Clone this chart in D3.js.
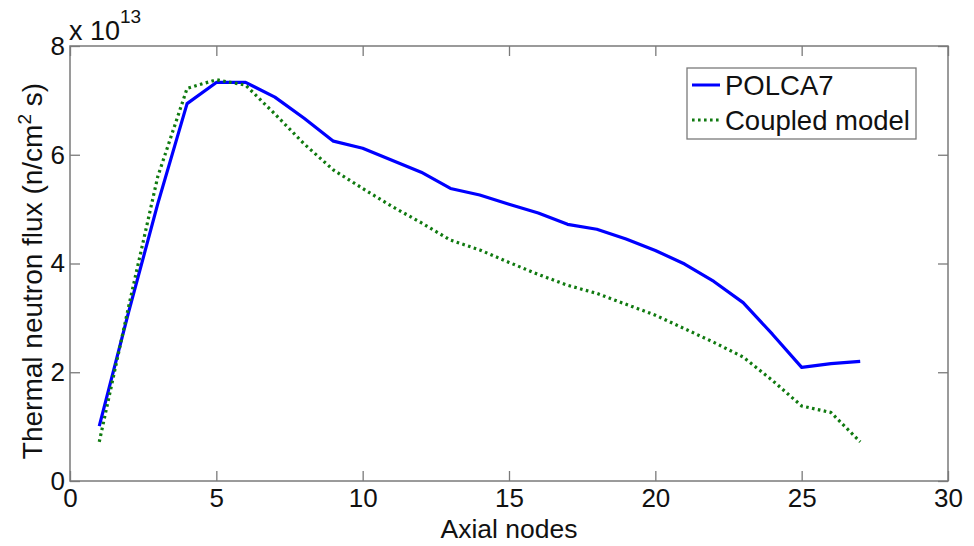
<!DOCTYPE html>
<html>
<head>
<meta charset="utf-8">
<script src="https://cdn.jsdelivr.net/npm/d3@7"></script>
<style>
  html, body { margin: 0; padding: 0; background: #fff; }
  svg text { font-family: "Liberation Sans", Arial, sans-serif; fill: #111; }
</style>
</head>
<body>
<div id="chart"></div>
<script>
// axial node index
const nodes = [1, 2, 3, 4, 5, 6, 7, 8, 9, 10, 11, 12, 13, 14, 15, 16, 17, 18, 19, 20, 21, 22, 23, 24, 25, 26, 27];
// thermal neutron flux, units of 1e13 n/(cm^2 s)
const polca7 = [1.01, 3.1, 5.1, 6.94, 7.33, 7.33, 7.06, 6.67, 6.25, 6.12, 5.9, 5.68, 5.38, 5.26, 5.09, 4.93, 4.72, 4.63, 4.45, 4.24, 3.99, 3.67, 3.28, 2.7, 2.09, 2.16, 2.2];
const coupled = [0.72, 3.2, 5.6, 7.22, 7.38, 7.28, 6.75, 6.2, 5.72, 5.38, 5.05, 4.75, 4.43, 4.25, 4.02, 3.8, 3.6, 3.45, 3.25, 3.05, 2.8, 2.55, 2.28, 1.85, 1.38, 1.26, 0.72];
const xTicks = [0, 5, 10, 15, 20, 25, 30];
const yTicks = [0, 2, 4, 6, 8];

const width = 974, height = 546;
const margin = { left: 70, right: 26, top: 46, bottom: 65 };
const axisColor = '#7a7a7a';

const svg = d3.select('#chart').append('svg')
  .attr('width', width)
  .attr('height', height);

const x = d3.scaleLinear().domain([0, 30]).range([margin.left, width - margin.right]);
const y = d3.scaleLinear().domain([0, 8]).range([height - margin.bottom, margin.top]);

// box
svg.append('rect')
  .attr('x', x(0)).attr('y', y(8))
  .attr('width', x(30) - x(0)).attr('height', y(0) - y(8))
  .attr('fill', 'none').attr('stroke', axisColor).attr('stroke-width', 1.5);

// ticks inward, on all four sides (matlab style)
const tickLen = 10;
const styleAxis = g => {
  g.select('.domain').remove();
  g.selectAll('.tick line').attr('stroke', axisColor).attr('stroke-width', 1.3);
  g.selectAll('.tick text').attr('font-size', '26px').attr('fill', '#111');
};

svg.append('g')
  .attr('transform', `translate(0,${y(0)})`)
  .call(d3.axisBottom(x).tickValues(xTicks).tickSize(-tickLen).tickPadding(8).tickFormat(d3.format('d')))
  .call(styleAxis);

svg.append('g')
  .attr('transform', `translate(0,${y(8)})`)
  .call(d3.axisTop(x).tickValues(xTicks).tickSize(-tickLen).tickFormat(''))
  .call(styleAxis);

svg.append('g')
  .attr('transform', `translate(${x(0)},0)`)
  .call(d3.axisLeft(y).tickValues(yTicks).tickSize(-tickLen).tickPadding(5).tickFormat(d3.format('d')))
  .call(styleAxis);

svg.append('g')
  .attr('transform', `translate(${x(30)},0)`)
  .call(d3.axisRight(y).tickValues(yTicks).tickSize(-tickLen).tickFormat(''))
  .call(styleAxis);

// exponent label
const expo = svg.append('text')
  .attr('x', x(0) - 1)
  .attr('y', 40)
  .attr('font-size', '27px');
expo.append('tspan').text('x 10');
expo.append('tspan').attr('dy', -17).attr('font-size', '19px').text('13');

// axis titles
svg.append('text')
  .attr('x', (x(0) + x(30)) / 2)
  .attr('y', 538)
  .attr('text-anchor', 'middle')
  .attr('font-size', '26.5px')
  .text('Axial nodes');

const yl = svg.append('text')
  .attr('transform', `translate(42,271) rotate(-90)`)
  .attr('text-anchor', 'middle')
  .attr('font-size', '28px');
yl.append('tspan').text('Thermal neutron flux (n/cm');
yl.append('tspan').attr('dy', -11).attr('font-size', '19px').text('2');
yl.append('tspan').attr('dy', 11).text(' s)');

// lines
const line = d3.line().x((d, i) => x(nodes[i])).y(d => y(d));

svg.append('path')
  .datum(polca7)
  .attr('d', line)
  .attr('fill', 'none')
  .attr('stroke', '#0000ff')
  .attr('stroke-width', 3.2)
  .attr('stroke-linejoin', 'round');

svg.append('path')
  .datum(coupled)
  .attr('d', line)
  .attr('fill', 'none')
  .attr('stroke', '#107a10')
  .attr('stroke-width', 3.2)
  .attr('stroke-dasharray', '2.6,3.4');

// legend
const lg = svg.append('g').attr('transform', 'translate(687,68)');
lg.append('rect')
  .attr('width', 229).attr('height', 71)
  .attr('fill', '#fff').attr('stroke', axisColor).attr('stroke-width', 1.3);

const legendItems = [
  { name: 'POLCA7', color: '#0000ff', dash: null },
  { name: 'Coupled model', color: '#107a10', dash: '2.6,3.4' }
];
legendItems.forEach((it, i) => {
  const cy = 17 + i * 35;
  lg.append('line')
    .attr('x1', 5).attr('x2', 33).attr('y1', cy).attr('y2', cy)
    .attr('stroke', it.color).attr('stroke-width', 3)
    .attr('stroke-dasharray', it.dash);
  lg.append('text')
    .attr('x', 38).attr('y', cy + 10)
    .attr('font-size', '27.5px')
    .text(it.name);
});
</script>
</body>
</html>
